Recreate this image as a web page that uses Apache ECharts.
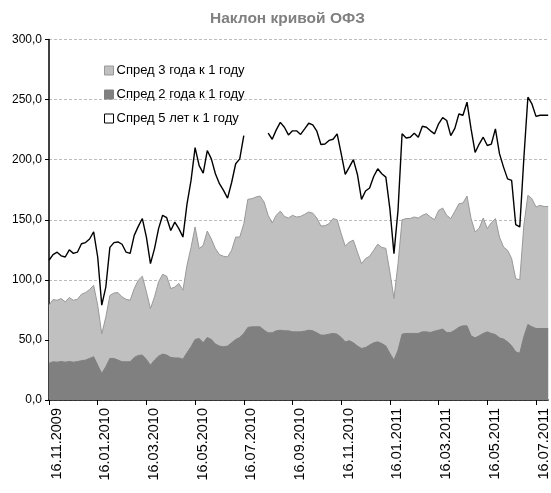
<!DOCTYPE html>
<html>
<head>
<meta charset="utf-8">
<script src="https://cdn.jsdelivr.net/npm/echarts@6/dist/echarts.min.js"></script>
<style>
html,body{margin:0;padding:0;background:#fff;}
#c{width:551px;height:493px;}
</style>
</head>
<body>
<div id="c"></div>
<script>
// Tick labels (every 2 months); 12 data steps between consecutive ticks
var tickLabels = ['16.11.2009','16.01.2010','16.03.2010','16.05.2010','16.07.2010','16.09.2010','16.11.2010','16.01.2011','16.03.2011','16.05.2011','16.07.2011'];
var stepsPerTick = 12;

// Спред 3 года к 1 году
var spread3 = [78.9,83.6,83,84.4,81.7,85.3,83,83.8,88,89.4,91.9,95.5,78.9,55,69,87,89,89.4,85.8,83.8,
83,92.7,99.7,103,90,76.1,85.8,98.3,104.6,103,92.7,94,97,91.4,112,127,144,126,128.7,140.6,
134,126,121,119.6,119,124.6,135.6,135.6,146.7,167,167.5,168.9,169.7,164.7,153.7,147.3,153.7,157.2,152.8,151.4,
153.7,152.3,152.8,154.5,156.4,155.5,151.4,144.8,145,146.7,151,150,138.4,128,131.5,133,123,113.5,117.7,119.6,
124.6,129.6,127,126.2,106.6,84.5,113.5,150,151,151,152.3,151.4,153.7,155,152.3,150,157.8,159.7,153.7,151,
157,163.3,164,169.7,151,139.8,143,151.4,142.6,147.6,151,135.6,127.3,124.6,117.7,101,100,145.3,170.3,167.5,
160.6,162,161,161];

// Спред 2 года к 1 году
var spread2 = [30.5,31.8,31.5,32,31.5,32,31.5,32,32.7,33.2,34.6,36,29,22.1,27.7,34.6,34.6,33.2,31.8,31.8,
31.8,35.4,37.1,37.4,33.8,29,33.2,36.5,38.2,37.4,35.4,35,35,34,39.3,44.3,50.4,51.2,47.6,52,
50.4,46.5,44.9,44.3,44.9,47.6,50.4,52,55.4,60.4,60.9,60.9,60.9,58.1,55.9,55.9,57.6,58.1,57.6,57.6,
56.7,56.7,56.7,57.3,58.1,57.6,55.9,54,54,54.8,55.4,54.8,52,48.4,49.3,47.6,44.9,42.9,43.7,45.7,
47.6,48.4,47,44.9,38.8,33.2,41.5,54.8,55.4,55.4,55.4,55.4,56.7,56.7,56.2,57.3,58.1,59,56.2,56.2,
58.1,60.6,61.7,61.7,53.4,51.7,53.4,55.4,56.7,55.4,54.5,51.7,50.7,48.4,45.1,40.1,39,52.6,62.8,60.9,
59.5,59.5,59.5,59.5];

// Спред 5 лет к 1 году (null = no data)
var spread5 = [116.3,121,123,120,119,125,122,123,130,131,134,140,119,79,94,127,131,131.5,129.6,123,
122,137,144.5,151,135.6,113.5,126,142.6,153.7,151.7,141,148,142.6,135.6,163,182.7,210,195,188.8,207.6,
200.7,188.3,180,174.4,168,181,196.6,200.7,220,null,null,null,null,null,222,217,224.8,231,227,220.6,
224,224,221,225.6,230.3,229,223.7,212.6,213,216,217,221.5,205,187.7,193.8,200,187.7,167,173.9,176.4,
186,192.4,188.3,185.5,159,121.8,157.8,221.5,218,218.7,222,218.7,227.8,227,224,221.5,229.8,235,232.6,220,
226,238,237,247.8,225.6,206,213,218.7,211.8,213,225.6,205,193.8,184,182.7,146,144,200.7,252,246.4,
236,237,237,237];

var seriesNames = ['Спред 3 года к 1 году','Спред 2 года к 1 году','Спред 5 лет к 1 году'];
var titleText = 'Наклон кривой ОФЗ';

var categories = spread3.map(function(_, i){
  return (i % stepsPerTick === 0 && tickLabels[i / stepsPerTick]) ? tickLabels[i / stepsPerTick] : ('p' + i);
});

var sans = '"Liberation Sans",Arial,sans-serif';
var chart = echarts.init(document.getElementById('c'));
chart.setOption({
  animation: false,
  backgroundColor: '#ffffff',
  title: {
    text: titleText, left: 205, top: 6,
    textStyle: {fontFamily: sans, fontSize: 15.5, fontWeight: 'bold', color: '#808080'}
  },
  legend: {
    orient: 'vertical', left: 99, top: 59,
    itemWidth: 9, itemHeight: 9, itemGap: 11, icon: 'rect',
    textStyle: {fontFamily: sans, fontSize: 13, color: '#000', padding: [0,0,0,-2]},
    data: [
      {name: seriesNames[0], itemStyle: {color: '#c0c0c0', borderColor: '#999999', borderWidth: 1}},
      {name: seriesNames[1], itemStyle: {color: '#808080', borderColor: '#808080', borderWidth: 1}},
      {name: seriesNames[2], itemStyle: {color: '#ffffff', borderColor: '#000000', borderWidth: 1}}
    ]
  },
  grid: {left: 49, right: -5, top: 39.5, bottom: 93, containLabel: false},
  xAxis: {
    type: 'category', data: categories, boundaryGap: false,
    axisLine: {lineStyle: {color: '#000', width: 1.5}},
    axisTick: {show: true, interval: stepsPerTick - 1, length: 5, lineStyle: {color: '#000'}},
    axisLabel: {
      interval: stepsPerTick - 1, rotate: 90, margin: 8, verticalAlign: 'top',
      fontFamily: sans, fontSize: 14.5, color: '#000',
      formatter: function(v){ return v.charAt(0) === 'p' ? '' : v; }
    },
    splitLine: {show: false}
  },
  yAxis: {
    type: 'value', min: 0, max: 300, interval: 50,
    axisLine: {show: true, lineStyle: {color: '#000', width: 1.5}},
    axisTick: {show: true, length: 4, lineStyle: {color: '#000'}},
    axisLabel: {
      margin: 7, fontFamily: sans, fontSize: 12, color: '#000',
      formatter: function(v){ return v.toFixed(1).replace('.', ','); }
    },
    splitLine: {show: true, lineStyle: {color: '#bdbdbd', type: [3,2], width: 1}}
  },
  series: [
    {name: seriesNames[0], type: 'line', data: spread3, symbol: 'none', z: 1,
     lineStyle: {color: '#999999', width: 1}, itemStyle: {color: '#c0c0c0'},
     areaStyle: {color: '#c0c0c0', opacity: 1}},
    {name: seriesNames[1], type: 'line', data: spread2, symbol: 'none', z: 2,
     lineStyle: {color: '#808080', width: 1}, itemStyle: {color: '#808080'},
     areaStyle: {color: '#808080', opacity: 1}},
    {name: seriesNames[2], type: 'line', data: spread5, symbol: 'none', z: 3, connectNulls: false,
     lineStyle: {color: '#000000', width: 1.4}, itemStyle: {color: '#ffffff', borderColor: '#000'}}
  ]
});
</script>
</body>
</html>
